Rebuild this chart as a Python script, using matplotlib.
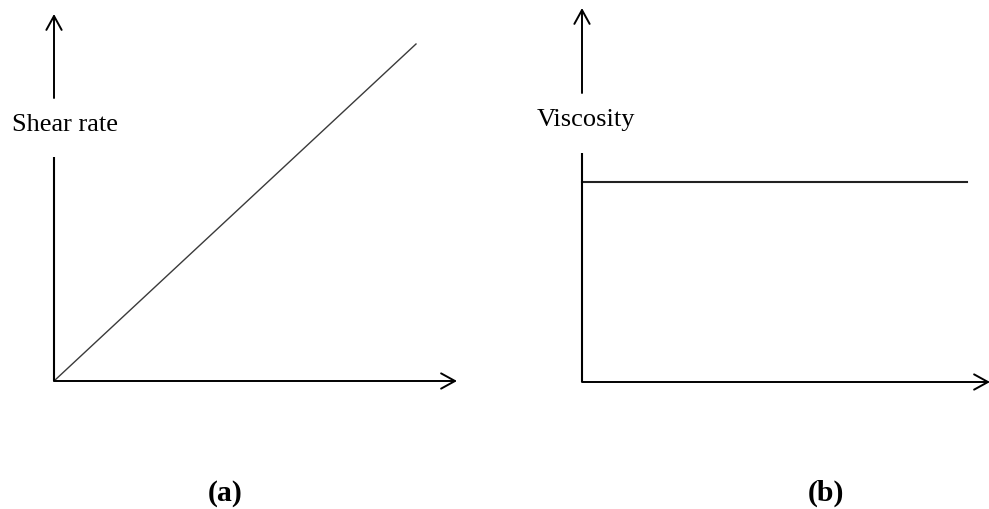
import matplotlib
matplotlib.use("Agg")
import matplotlib.pyplot as plt
from matplotlib.patches import FancyArrowPatch
from matplotlib.lines import Line2D

# Data
shear_x = [0.0, 1.0]
shear_y = [0.0, 1.0]
visc_x = [0.0, 1.0]
visc_y = [1.0, 1.0]
label_a = "Shear rate"
label_b = "Viscosity"
panel_labels = ["(a)", "(b)"]

W, H = 989, 509
fig = plt.figure(figsize=(W / 100, H / 100), dpi=100)
fig.patch.set_facecolor("white")

def fx(px):
    return px / W

def fy(py):
    return 1 - py / H

serif = ["Liberation Serif", "DejaVu Serif"]

def axes_at(x0, ybot, x1, ytop):
    ax = fig.add_axes([fx(x0), fy(ybot), fx(x1) - fx(x0), fy(ytop) - fy(ybot)])
    ax.set_xlim(0, 1)
    ax.set_ylim(0, 1)
    ax.axis("off")
    return ax

def seg(x0, y0, x1, y1, lw=1.5, color="black"):
    fig.add_artist(Line2D([fx(x0), fx(x1)], [fy(y0), fy(y1)],
                          transform=fig.transFigure, lw=lw, color=color,
                          solid_capstyle="butt"))

def arrow(x0, y0, x1, y1):
    fig.add_artist(FancyArrowPatch((fx(x0), fy(y0)), (fx(x1), fy(y1)),
                                   transform=fig.transFigure,
                                   arrowstyle="->,head_length=10,head_width=5.5",
                                   lw=1.4, color="black", shrinkA=0, shrinkB=0))

# Panel (a)
ax_a = axes_at(54, 381, 416, 44)
ax_a.plot(shear_x, shear_y, color="#3a3a3a", lw=1.0, clip_on=False)
arrow(54, 381, 457, 381)
seg(54, 381, 54, 157)
arrow(54, 98, 54, 14)
fig.text(fx(12), fy(131), label_a, family=serif, fontsize=19,
         ha="left", va="baseline")

# Panel (b)
ax_b = axes_at(582, 382, 967, 182)
ax_b.plot(visc_x, visc_y, color="#222222", lw=1.5, clip_on=False)
arrow(582, 382, 990, 382)
seg(582, 382, 582, 153)
arrow(582, 93, 582, 8)
fig.text(fx(537), fy(126), label_b, family=serif, fontsize=19,
         ha="left", va="baseline")

fig.text(fx(225), fy(501), panel_labels[0], family=serif, fontsize=21.5,
         fontweight="bold", ha="center", va="baseline")
fig.text(fx(826), fy(501), panel_labels[1], family=serif, fontsize=21.5,
         fontweight="bold", ha="center", va="baseline")

fig.savefig("out.png", dpi=100, facecolor="white")
